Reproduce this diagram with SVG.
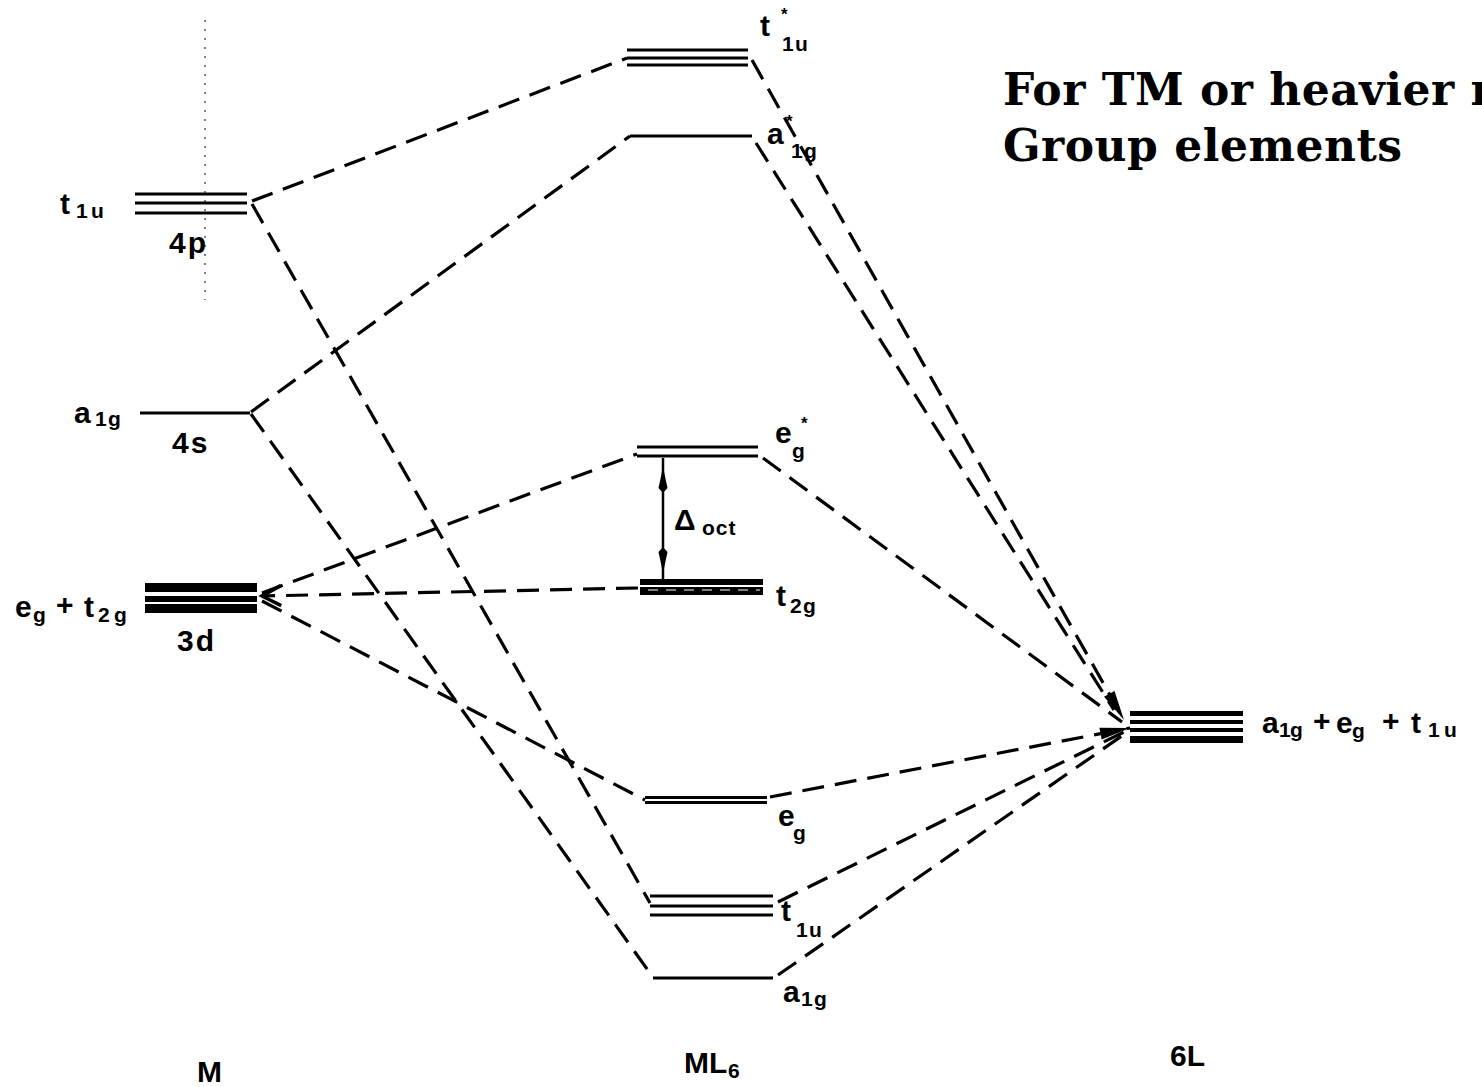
<svg xmlns="http://www.w3.org/2000/svg" width="1482" height="1087" viewBox="0 0 1482 1087">
  <style>
    .lv { stroke: #000; stroke-width: 3; fill: none; }
    .bar { fill: #000; }
    .cn { stroke: #000; stroke-width: 3.2; fill: none; stroke-dasharray: 22 11; }
    .lb { font-family: "Liberation Sans", Arial, sans-serif; font-weight: bold; font-size: 30px; fill: #000; }
    .sb { font-size: 21px; }
    .st { font-size: 17px; }
    .ti { font-family: "DejaVu Serif", "Liberation Serif", serif; font-weight: bold; font-size: 44px; fill: #000; }
  </style>
  <defs>
    <marker id="ah" markerUnits="userSpaceOnUse" markerWidth="32" markerHeight="14" refX="30" refY="6" orient="auto" overflow="visible">
      <path d="M0,0 L30,6 L0,12 z" fill="#000"/>
    </marker>
    <marker id="chev" markerUnits="userSpaceOnUse" markerWidth="26" markerHeight="24" refX="21" refY="11" orient="auto" overflow="visible">
      <path d="M2,1 L21,11 L2,21" fill="none" stroke="#000" stroke-width="3.5"/>
    </marker>
  </defs>
  <rect width="1482" height="1087" fill="#fff"/>

  <!-- heading -->
  <g id="heading">
    <text class="ti" x="1003" y="105" letter-spacing="0.5">For TM or heavier main</text>
    <text class="ti" x="1003" y="161" letter-spacing="0.5">Group elements</text>
  </g>

  <!-- faint guide dots above the 4p level -->
  <line x1="205" y1="20" x2="205" y2="300" stroke="#555" stroke-width="1.5" stroke-dasharray="2 7"/>

  <!-- connectors -->
  <g id="connectors">
    <path class="cn" d="M252,201 L627,58"/>
    <path class="cn" d="M252,204 L650,903"/>
    <path class="cn" d="M251,412 L630,136"/>
    <path class="cn" d="M251,414 L652,976"/>
    <path class="cn" d="M262,593 L637,454"/>
    <path class="cn" d="M638,588 L262,596" marker-end="url(#chev)"/>
    <path class="cn" d="M262,601 L645,800"/>
    <path class="cn" d="M752,60 L1124,720" marker-end="url(#ah)"/>
    <path class="cn" d="M756,143 L1114,710"/>
    <path class="cn" d="M763,458 L1122,722"/>
    <path class="cn" d="M770,797 L1130,728" marker-end="url(#ah)"/>
    <path class="cn" d="M778,902 L1126,731"/>
    <path class="cn" d="M778,975 L1126,733"/>
  </g>

  <!-- metal orbitals (M) -->
  <g id="m-4p">
    <line class="lv" x1="135" y1="194" x2="247" y2="194"/>
    <line class="lv" x1="135" y1="203" x2="247" y2="203"/>
    <line class="lv" x1="135" y1="213" x2="247" y2="213"/>
    <text class="lb" y="214"><tspan x="60">t</tspan><tspan class="sb" x="76" y="218">1</tspan><tspan class="sb" x="91" y="218">u</tspan></text>
    <text class="lb" x="169" y="253" font-size="29" letter-spacing="2">4p</text>
  </g>
  <g id="m-4s">
    <line class="lv" x1="140" y1="413" x2="250" y2="413"/>
    <text class="lb" y="423"><tspan x="74">a</tspan><tspan class="sb" x="95" y="426">1</tspan><tspan class="sb" x="108" y="426">g</tspan></text>
    <text class="lb" x="172" y="453" font-size="29" letter-spacing="2">4s</text>
  </g>
  <g id="m-3d">
    <rect class="bar" x="145" y="583" width="112" height="9"/>
    <rect class="bar" x="145" y="596" width="112" height="6"/>
    <rect class="bar" x="145" y="604" width="112" height="9"/>
    <text class="lb" y="617"><tspan x="15">e</tspan><tspan class="sb" x="33" y="622">g</tspan><tspan x="56" y="615">+</tspan><tspan x="84" y="617">t</tspan><tspan class="sb" x="98" y="622">2</tspan><tspan class="sb" x="114" y="622">g</tspan></text>
    <text class="lb" x="177" y="651" font-size="29" letter-spacing="2">3d</text>
  </g>

  <!-- complex orbitals (ML6) -->
  <g id="ml6-t1u-star">
    <line class="lv" x1="627" y1="50" x2="748" y2="50"/>
    <line class="lv" x1="627" y1="58" x2="748" y2="58"/>
    <line class="lv" x1="627" y1="65" x2="748" y2="65"/>
    <text class="lb" y="36"><tspan x="760">t</tspan><tspan class="st" x="781" y="20">*</tspan><tspan class="sb" x="782" y="51">1</tspan><tspan class="sb" x="795" y="51">u</tspan></text>
  </g>
  <g id="ml6-a1g-star">
    <line class="lv" x1="630" y1="136" x2="752" y2="136"/>
    <text class="lb" y="144"><tspan x="767">a</tspan><tspan class="st" x="786" y="127">*</tspan><tspan class="sb" x="791" y="158">1</tspan><tspan class="sb" x="804" y="158">g</tspan></text>
  </g>
  <g id="ml6-eg-star">
    <line class="lv" x1="637" y1="447" x2="758" y2="447"/>
    <line class="lv" x1="637" y1="456" x2="758" y2="456"/>
    <text class="lb" y="443"><tspan x="775">e</tspan><tspan class="st" x="801" y="429">*</tspan><tspan class="sb" x="792" y="458">g</tspan></text>
  </g>
  <g id="delta-oct">
    <line x1="663" y1="458" x2="663" y2="584" stroke="#000" stroke-width="2.5"/>
    <path d="M663,467 L667.5,488 L663,493 L658.5,488 z" fill="#000"/>
    <path d="M663,573 L667.5,552 L663,547 L658.5,552 z" fill="#000"/>
    <text class="lb" x="674" y="530" font-size="28">Δ<tspan class="sb" x="702" y="535" font-size="20" letter-spacing="1">oct</tspan></text>
  </g>
  <g id="ml6-t2g">
    <rect class="bar" x="640" y="579" width="123" height="6"/>
    <rect class="bar" x="640" y="587" width="123" height="8"/>
    <line x1="648" y1="590" x2="760" y2="590" stroke="#fff" stroke-width="1.2" stroke-dasharray="10 8"/>
    <text class="lb" y="606"><tspan x="776">t</tspan><tspan class="sb" x="790" y="613">2</tspan><tspan class="sb" x="803" y="613">g</tspan></text>
  </g>
  <g id="ml6-eg">
    <line class="lv" x1="645" y1="797.5" x2="767" y2="797.5"/>
    <line class="lv" x1="645" y1="802.5" x2="767" y2="802.5"/>
    <text class="lb" y="826"><tspan x="778">e</tspan><tspan class="sb" x="793" y="840">g</tspan></text>
  </g>
  <g id="ml6-t1u">
    <line class="lv" x1="650" y1="896" x2="773" y2="896"/>
    <line class="lv" x1="650" y1="906" x2="773" y2="906" stroke-width="5"/>
    <line class="lv" x1="650" y1="915" x2="773" y2="915"/>
    <text class="lb" y="921"><tspan x="781">t</tspan><tspan class="sb" x="796" y="937">1</tspan><tspan class="sb" x="809" y="937">u</tspan></text>
  </g>
  <g id="ml6-a1g">
    <line class="lv" x1="653" y1="978" x2="773" y2="978"/>
    <text class="lb" y="1002" font-size="26"><tspan x="783">a</tspan><tspan class="sb" x="801" y="1006">1</tspan><tspan class="sb" x="814" y="1006">g</tspan></text>
  </g>

  <!-- ligand group orbitals (6L) -->
  <g id="ligands">
    <rect class="bar" x="1130" y="711" width="113" height="5"/>
    <rect class="bar" x="1130" y="720" width="113" height="4"/>
    <rect class="bar" x="1130" y="728" width="113" height="4"/>
    <rect class="bar" x="1130" y="736" width="113" height="7"/>
    <text class="lb" y="733"><tspan x="1262">a</tspan><tspan class="sb" x="1279" y="737">1</tspan><tspan class="sb" x="1290" y="737">g</tspan><tspan x="1313" y="731">+</tspan><tspan x="1336" y="733">e</tspan><tspan class="sb" x="1352" y="738">g</tspan><tspan x="1382" y="731">+</tspan><tspan x="1411" y="733">t</tspan><tspan class="sb" x="1428" y="737">1</tspan><tspan class="sb" x="1444" y="737">u</tspan></text>
  </g>

  <!-- column captions -->
  <g id="captions">
    <text class="lb" x="197" y="1082" font-size="28">M</text>
    <text class="lb" x="684" y="1073" font-size="27">ML<tspan class="sb" x="728" y="1078">6</tspan></text>
    <text class="lb" x="1170" y="1066" font-size="28">6L</text>
  </g>
</svg>
